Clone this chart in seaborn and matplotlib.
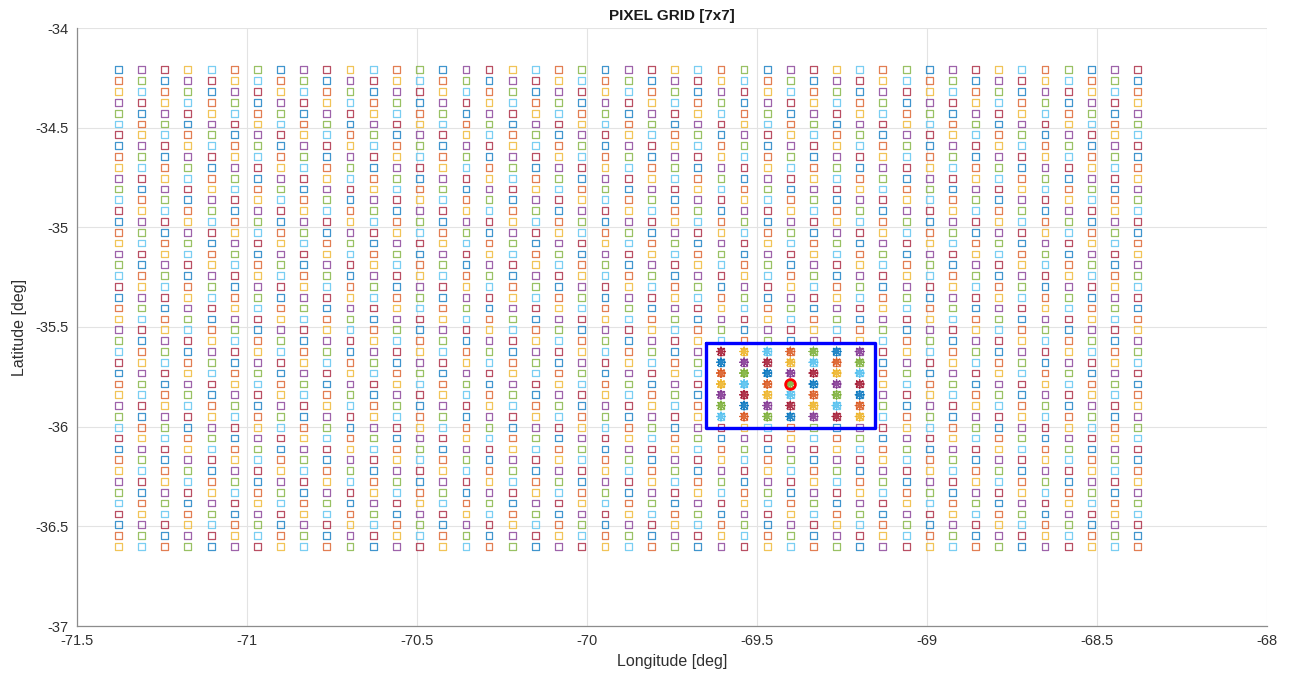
import numpy as np
import pandas as pd
import matplotlib
matplotlib.use("Agg")
import matplotlib.pyplot as plt
import seaborn as sns

# MATLAB default colour order
matlab_colors = ["#0072BD", "#D95319", "#EDB120", "#7E2F8E", "#77AC30", "#4DBEEE", "#A2142F"]

# square markers: full pixel grid (columns of longitude, rows of latitude from the top)
grid_lon = [-71.378, -71.310, -71.242, -71.174, -71.105, -71.037, -70.969, -70.901,
            -70.833, -70.765, -70.697, -70.628, -70.560, -70.492, -70.424, -70.356,
            -70.288, -70.220, -70.152, -70.083, -70.015, -69.947, -69.879, -69.811,
            -69.743, -69.675, -69.606, -69.538, -69.470, -69.402, -69.334, -69.266,
            -69.198, -69.130, -69.061, -68.993, -68.925, -68.857, -68.789, -68.721,
            -68.653, -68.584, -68.516, -68.448, -68.380]
grid_lat = [-34.210, -34.264, -34.319, -34.373, -34.427, -34.482, -34.536, -34.590,
            -34.645, -34.699, -34.753, -34.808, -34.862, -34.916, -34.971, -35.025,
            -35.079, -35.134, -35.188, -35.242, -35.297, -35.351, -35.405, -35.460,
            -35.514, -35.568, -35.623, -35.677, -35.731, -35.786, -35.840, -35.894,
            -35.949, -36.003, -36.057, -36.112, -36.166, -36.220, -36.275, -36.329,
            -36.383, -36.438, -36.492, -36.546, -36.600]

# 7x7 selected pixels (asterisks)
sel_lon = [-69.606, -69.538, -69.470, -69.402, -69.334, -69.266, -69.198]
sel_lat = [-35.623, -35.677, -35.731, -35.786, -35.840, -35.894, -35.949]

# centre pixel and the box around the 7x7 window
centre_lon = -69.402
centre_lat = -35.786
box_lon = [-69.650, -69.153, -69.153, -69.650, -69.650]
box_lat = [-35.578, -35.578, -36.008, -36.008, -35.578]


def outline_only(coll, lw):
    fc = coll.get_facecolors()
    if len(fc):
        coll.set_edgecolors(fc)
    coll.set_facecolors("none")
    coll.set_linewidth(lw)


sns.set_theme(style="whitegrid")
plt.rcParams["font.family"] = ["Liberation Sans", "DejaVu Sans"]
plt.rcParams["axes.unicode_minus"] = False

fig = plt.figure(figsize=(12.91, 6.78), dpi=100)
ax = fig.add_axes([77 / 1291, 1 - 626 / 678, 1190 / 1291, 598 / 678])

names = ["c%d" % i for i in range(7)]
pal = dict(zip(names, matlab_colors))
nrows = len(grid_lat)


def colour_of(c, r):
    # points were plotted column by column, each taking the next colour in the order
    return names[(c * nrows + r) % 7]


recs = []
for c, lon in enumerate(grid_lon):
    for r, lat in enumerate(grid_lat):
        recs.append((lon, lat, colour_of(c, r)))
squares = pd.DataFrame(recs, columns=["lon", "lat", "colour"])

sns.scatterplot(data=squares, x="lon", y="lat", hue="colour", hue_order=names,
                palette=pal, marker="s", s=24, legend=False, ax=ax, alpha=0.75)
outline_only(ax.collections[-1], 0.9)

recs = []
for lon in sel_lon:
    for lat in sel_lat:
        recs.append((lon, lat, colour_of(grid_lon.index(lon), grid_lat.index(lat))))
stars = pd.DataFrame(recs, columns=["lon", "lat", "colour"])

sns.scatterplot(data=stars, x="lon", y="lat", hue="colour", hue_order=names,
                palette=pal, marker=(8, 2, 0), s=40, legend=False, ax=ax, alpha=0.85)
outline_only(ax.collections[-1], 0.9)

ax.plot(box_lon, box_lat, color="#0000FF", lw=2.4, zorder=5)
ax.plot(centre_lon, centre_lat, marker="o", ms=7, mfc="none", mec="#FF0000", mew=2, zorder=6)

ax.set_xlim(-71.5, -68)
ax.set_ylim(-37, -34)
ax.set_xticks(np.arange(-71.5, -67.9, 0.5))
ax.set_yticks(np.arange(-37, -33.9, 0.5))
ax.xaxis.set_major_formatter(matplotlib.ticker.FormatStrFormatter("%g"))
ax.yaxis.set_major_formatter(matplotlib.ticker.FormatStrFormatter("%g"))

ax.set_facecolor("white")
ax.grid(True, color="#e3e3e3", lw=0.8)
for side in ["top", "right"]:
    ax.spines[side].set_visible(False)
for side in ["left", "bottom"]:
    ax.spines[side].set_color("#8c8c8c")
    ax.spines[side].set_linewidth(0.9)
ax.tick_params(direction="in", length=4, width=0.8, color="#8c8c8c",
               labelsize=10.5, labelcolor="#303030", pad=6)

ax.set_xlabel("Longitude [deg]", fontsize=11.5, color="#303030", labelpad=4)
ax.set_ylabel("Latitude [deg]", fontsize=11.5, color="#303030", labelpad=6)
ax.set_title("PIXEL GRID [7x7]", fontsize=11, fontweight="bold", color="#1a1a1a", pad=6)

fig.savefig("out.png", dpi=100)
